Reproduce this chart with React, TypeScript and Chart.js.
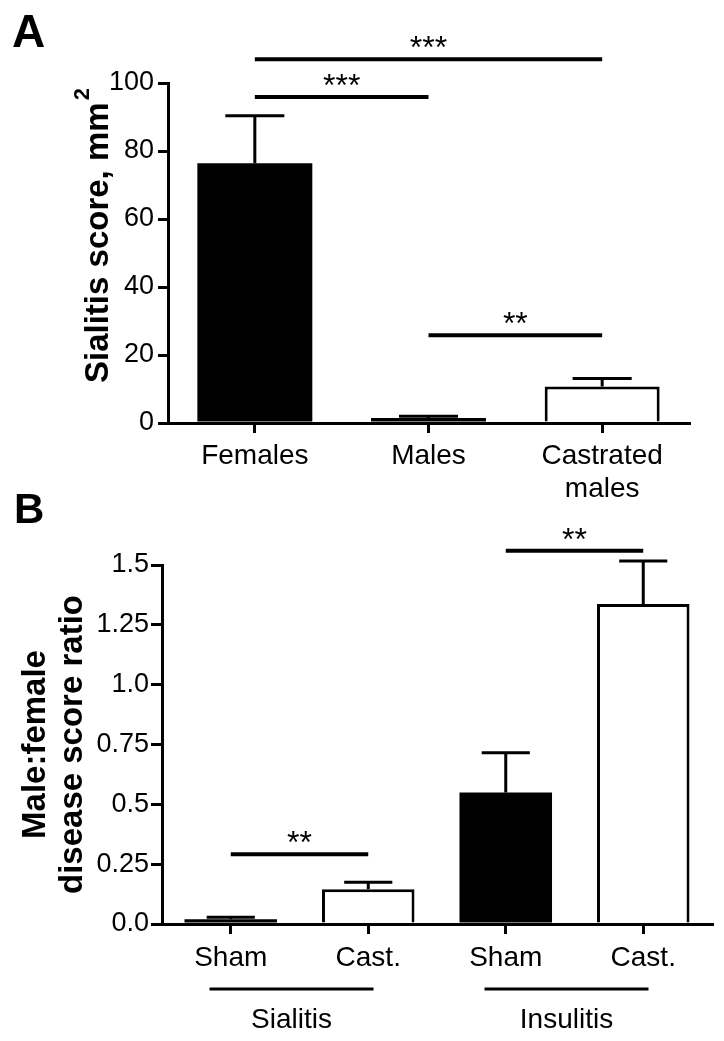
import React, { useEffect, useRef } from 'react';
import { Chart, registerables } from 'chart.js';

Chart.register(...registerables);

const FONT = "'Liberation Sans', Arial, Helvetica, sans-serif";

// ---------- Panel A data ----------
const A_CATEGORIES: (string | string[])[] = ['Females', 'Males', ['Castrated', 'males']];
const A_MEANS = [76.4, 1.5, 10.7];
const A_ERRORS = [14.0, 0.5, 2.4];
const A_FILLS = ['#000000', '#000000', '#ffffff'];
const A_Y_MIN = 0;
const A_Y_MAX = 100;
const A_Y_STEP = 20;
const A_Y_TITLE = 'Sialitis score, mm';
const A_Y_TITLE_SUP = '2';
const A_SIG = [
  { from: 0, to: 1, y: 95.9, label: '***' },
  { from: 0, to: 2, y: 107.0, label: '***' },
  { from: 1, to: 2, y: 25.8, label: '**' },
];

// ---------- Panel B data ----------
const B_CATEGORIES = ['Sham', 'Cast.', 'Sham', 'Cast.'];
const B_MEANS = [0.02, 0.145, 0.549, 1.337];
const B_ERRORS = [0.008, 0.029, 0.167, 0.18];
const B_FILLS = ['#000000', '#ffffff', '#000000', '#ffffff'];
const B_Y_MIN = 0;
const B_Y_MAX = 1.5;
const B_Y_STEP = 0.25;
const B_Y_TICK_LABELS = ['0.0', '0.25', '0.5', '0.75', '1.0', '1.25', '1.5'];
const B_Y_TITLE = ['Male:female', 'disease score ratio'];
const B_GROUPS = [
  { label: 'Sialitis', from: 0, to: 1 },
  { label: 'Insulitis', from: 2, to: 3 },
];
const B_SIG = [
  { from: 0, to: 1, y: 0.291, label: '**' },
  { from: 2, to: 3, y: 1.56, label: '**' },
];

type Sig = { from: number; to: number; y: number; label: string };

const borderWidths = (fills: string[]) => fills.map((f) => (f === '#000000' ? 0 : 3));

function errorBarPlugin(errors: number[], means: number[], capFrac: number) {
  return {
    id: 'errbars',
    afterDatasetsDraw(chart: any) {
      const { ctx } = chart;
      const xs = chart.scales.x;
      const ys = chart.scales.y;
      const meta = chart.getDatasetMeta(0);
      const catW = (xs.right - xs.left) / means.length;
      ctx.save();
      ctx.strokeStyle = '#000';
      ctx.lineWidth = 3;
      ctx.lineCap = 'butt';
      meta.data.forEach((el: any, i: number) => {
        const x = el.x;
        const yb = ys.getPixelForValue(means[i]);
        const yt = ys.getPixelForValue(means[i] + errors[i]);
        const hw = (catW * capFrac) / 2;
        ctx.beginPath();
        ctx.moveTo(x, yb);
        ctx.lineTo(x, yt);
        ctx.moveTo(x - hw, yt);
        ctx.lineTo(x + hw, yt);
        ctx.stroke();
      });
      ctx.restore();
    },
  };
}

function sigPlugin(sigs: Sig[]) {
  return {
    id: 'sig',
    afterDraw(chart: any) {
      const { ctx } = chart;
      const xs = chart.scales.x;
      const ys = chart.scales.y;
      ctx.save();
      ctx.strokeStyle = '#000';
      ctx.fillStyle = '#000';
      ctx.lineWidth = 4;
      ctx.font = `32px ${FONT}`;
      ctx.textAlign = 'center';
      ctx.textBaseline = 'alphabetic';
      sigs.forEach((s) => {
        const x1 = xs.getPixelForTick(s.from);
        const x2 = xs.getPixelForTick(s.to);
        const y = ys.getPixelForValue(s.y);
        ctx.beginPath();
        ctx.moveTo(x1, y);
        ctx.lineTo(x2, y);
        ctx.stroke();
        ctx.fillText(s.label, (x1 + x2) / 2, y - 1);
      });
      ctx.restore();
    },
  };
}

function panelLabelPlugin(letter: string, x: number, y: number, size: number) {
  return {
    id: 'panelLabel',
    afterDraw(chart: any) {
      const { ctx } = chart;
      ctx.save();
      ctx.fillStyle = '#000';
      ctx.font = `bold ${size}px ${FONT}`;
      ctx.textAlign = 'left';
      ctx.textBaseline = 'alphabetic';
      ctx.fillText(letter, x, y);
      ctx.restore();
    },
  };
}

const yTitleAPlugin = {
  id: 'yTitleA',
  afterDraw(chart: any) {
    const { ctx, chartArea } = chart;
    ctx.save();
    ctx.fillStyle = '#000';
    ctx.translate(chartArea.left - 60, chartArea.bottom - 40);
    ctx.rotate(-Math.PI / 2);
    ctx.textAlign = 'left';
    ctx.textBaseline = 'alphabetic';
    ctx.font = `bold 33px ${FONT}`;
    ctx.fillText(A_Y_TITLE, 0, 0);
    const w = ctx.measureText(A_Y_TITLE).width;
    ctx.font = `bold 22px ${FONT}`;
    ctx.fillText(A_Y_TITLE_SUP, w + 2, -19);
    ctx.restore();
  },
};

const groupPlugin = {
  id: 'groups',
  afterDraw(chart: any) {
    const { ctx, chartArea } = chart;
    const xs = chart.scales.x;
    ctx.save();
    ctx.strokeStyle = '#000';
    ctx.fillStyle = '#000';
    ctx.lineWidth = 3;
    ctx.font = `28px ${FONT}`;
    ctx.textAlign = 'center';
    ctx.textBaseline = 'alphabetic';
    B_GROUPS.forEach((g) => {
      const x1 = xs.getPixelForTick(g.from);
      const x2 = xs.getPixelForTick(g.to);
      const c = (x1 + x2) / 2 - 8;
      const half = 82;
      const ly = chartArea.bottom + 65;
      ctx.beginPath();
      ctx.moveTo(c - half, ly);
      ctx.lineTo(c + half, ly);
      ctx.stroke();
      ctx.fillText(g.label, c, chartArea.bottom + 104);
    });
    ctx.restore();
  },
};

function axisCommon() {
  return {
    grid: {
      display: true,
      drawOnChartArea: false,
      drawTicks: true,
      tickLength: 10,
      lineWidth: 3,
      color: '#000',
    },
    border: { display: true, width: 3, color: '#000' },
  };
}

function ChartA() {
  const ref = useRef<HTMLCanvasElement | null>(null);
  useEffect(() => {
    if (!ref.current) return;
    const chart = new Chart(ref.current, {
      type: 'bar',
      data: {
        labels: A_CATEGORIES as any,
        datasets: [
          {
            data: A_MEANS,
            backgroundColor: A_FILLS,
            borderColor: '#000',
            borderWidth: borderWidths(A_FILLS),
            borderSkipped: 'start',
            barPercentage: 0.662,
            categoryPercentage: 1,
          },
        ],
      },
      options: {
        responsive: false,
        animation: false,
        events: [],
        layout: { padding: { left: 0, top: 83, right: 35, bottom: 0 } },
        plugins: { legend: { display: false }, tooltip: { enabled: false } },
        scales: {
          x: {
            ...axisCommon(),
            grid: { ...axisCommon().grid, offset: false },
            ticks: {
              color: '#000',
              font: { family: FONT, size: 28, lineHeight: 1.18 },
              padding: 7,
              maxRotation: 0,
              autoSkip: false,
            },
            afterFit: (s: any) => {
              s.height = 77;
            },
          },
          y: {
            ...axisCommon(),
            min: A_Y_MIN,
            max: A_Y_MAX,
            ticks: {
              stepSize: A_Y_STEP,
              color: '#000',
              font: { family: FONT, size: 27 },
              padding: 4,
            },
            afterFit: (s: any) => {
              s.width = 168;
            },
          },
        },
      },
      plugins: [
        errorBarPlugin(A_ERRORS, A_MEANS, 0.34),
        sigPlugin(A_SIG),
        panelLabelPlugin('A', 12, 47, 46),
        yTitleAPlugin,
      ],
    } as any);
    return () => chart.destroy();
  }, []);
  return (
    <canvas
      ref={ref}
      width={724}
      height={500}
      style={{ position: 'absolute', left: 0, top: 0, width: 724, height: 500 }}
    />
  );
}

function ChartB() {
  const ref = useRef<HTMLCanvasElement | null>(null);
  useEffect(() => {
    if (!ref.current) return;
    const chart = new Chart(ref.current, {
      type: 'bar',
      data: {
        labels: B_CATEGORIES,
        datasets: [
          {
            data: B_MEANS,
            backgroundColor: B_FILLS,
            borderColor: '#000',
            borderWidth: borderWidths(B_FILLS),
            borderSkipped: 'start',
            barPercentage: 0.673,
            categoryPercentage: 1,
          },
        ],
      },
      options: {
        responsive: false,
        animation: false,
        events: [],
        layout: { padding: { left: 0, top: 85, right: 12, bottom: 0 } },
        plugins: { legend: { display: false }, tooltip: { enabled: false } },
        scales: {
          x: {
            ...axisCommon(),
            grid: { ...axisCommon().grid, offset: false },
            ticks: {
              color: '#000',
              font: { family: FONT, size: 28 },
              padding: 7,
              maxRotation: 0,
              autoSkip: false,
            },
            afterFit: (s: any) => {
              s.height = 117;
            },
          },
          y: {
            ...axisCommon(),
            grid: { ...axisCommon().grid, tickLength: 11 },
            min: B_Y_MIN,
            max: B_Y_MAX,
            ticks: {
              stepSize: B_Y_STEP,
              color: '#000',
              font: { family: FONT, size: 27 },
              padding: 2,
              callback: (_v: any, i: number) => B_Y_TICK_LABELS[i],
            },
            title: {
              display: true,
              text: B_Y_TITLE,
              color: '#000',
              font: { family: FONT, size: 33, weight: 'bold', lineHeight: 1.1 },
              padding: { top: 18, bottom: 0 },
            },
            afterFit: (s: any) => {
              s.width = 162;
            },
          },
        },
      },
      plugins: [
        errorBarPlugin(B_ERRORS, B_MEANS, 0.35),
        sigPlugin(B_SIG),
        panelLabelPlugin('B', 14, 43, 42),
        groupPlugin,
      ],
    } as any);
    return () => chart.destroy();
  }, []);
  return (
    <canvas
      ref={ref}
      width={724}
      height={561}
      style={{ position: 'absolute', left: 0, top: 480, width: 724, height: 561 }}
    />
  );
}

export default function App() {
  return (
    <div
      style={{
        position: 'absolute',
        left: 0,
        top: 0,
        width: 724,
        height: 1041,
        background: '#fff',
        overflow: 'hidden',
      }}
    >
      <ChartA />
      <ChartB />
    </div>
  );
}
